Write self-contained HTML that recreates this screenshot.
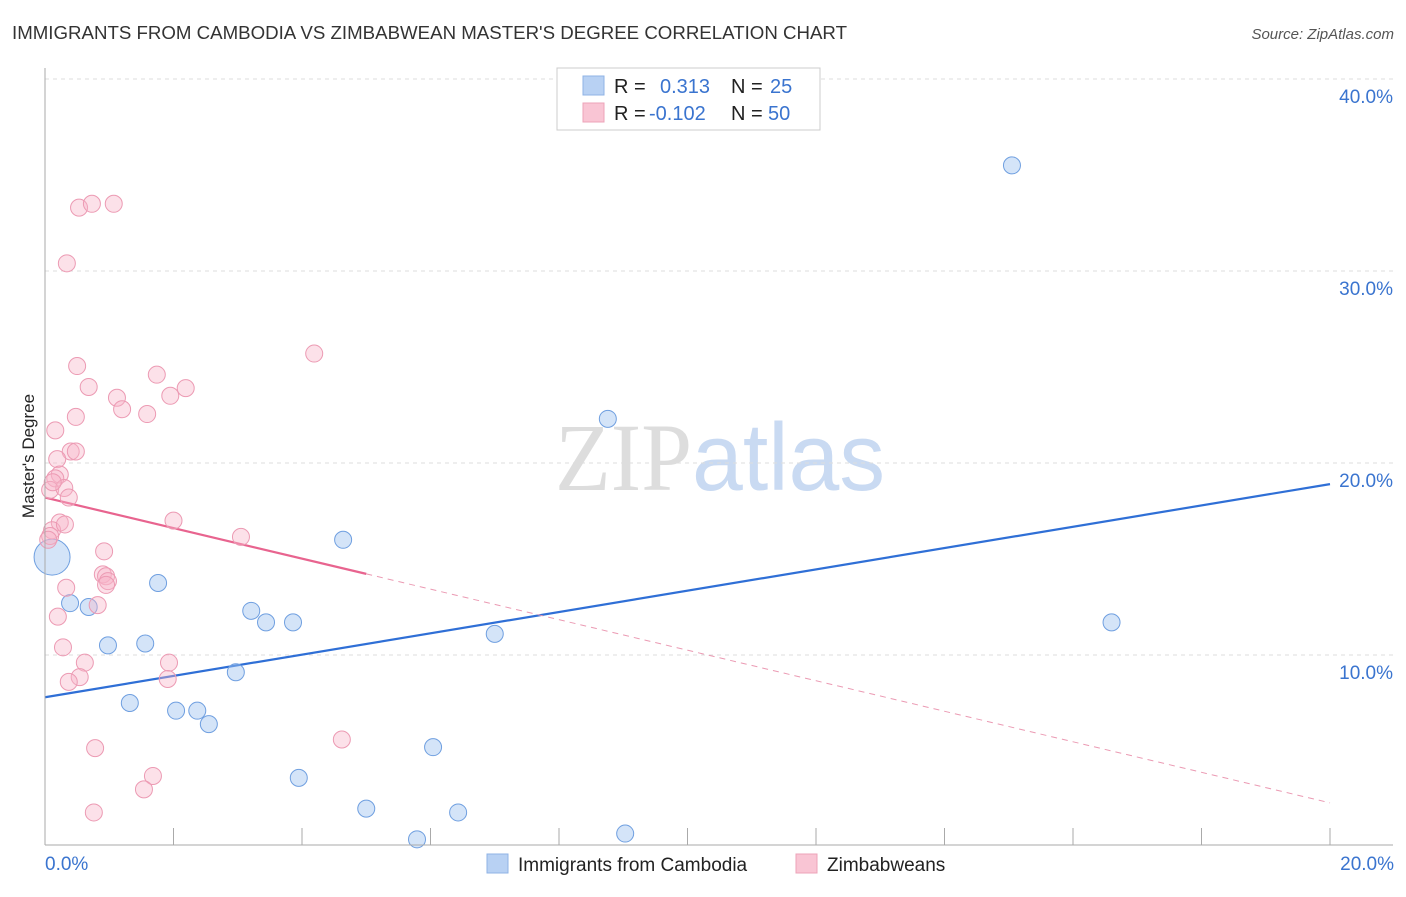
<!DOCTYPE html>
<html><head><meta charset="utf-8"><style>
body{margin:0;background:#fff;font-family:"Liberation Sans",sans-serif;}
svg text{font-family:"Liberation Sans",sans-serif;}
</style></head><body>
<svg id="chart" width="1406" height="892" xmlns="http://www.w3.org/2000/svg">
<text x="12" y="39" font-size="18" fill="#333" textLength="835" lengthAdjust="spacingAndGlyphs">IMMIGRANTS FROM CAMBODIA VS ZIMBABWEAN MASTER'S DEGREE CORRELATION CHART</text>
<text x="1394" y="39" font-size="15" fill="#555" text-anchor="end" font-style="italic">Source: ZipAtlas.com</text>
<text x="720" y="490" font-size="96" text-anchor="middle" textLength="330" lengthAdjust="spacingAndGlyphs"><tspan fill="#ddd" font-family="Liberation Serif,serif">ZIP</tspan><tspan fill="#c9daf2">atlas</tspan></text>
<text transform="translate(34,456) rotate(-90)" font-size="17" fill="#222" text-anchor="middle">Master's Degree</text>
<g id="grid"></g><g id="ticks"></g><g id="lines"></g><g id="pts"></g>
<line x1="45" y1="68" x2="45" y2="845" stroke="#aaa"/>
<line x1="45" y1="845" x2="1393" y2="845" stroke="#aaa"/>
<g>
<rect x="557" y="68" width="263" height="62" fill="#fff" stroke="#ccc"/>
<rect x="583" y="76" width="21" height="19" fill="#b8d1f3" stroke="#8fb3e6"/>
<rect x="583" y="103" width="21" height="19" fill="#f9c5d4" stroke="#eda3b8"/>
<text x="614" y="93" font-size="20" fill="#222">R =</text>
<text x="660" y="93" font-size="20" fill="#3a74cf">0.313</text>
<text x="731" y="93" font-size="20" fill="#222">N =</text>
<text x="770" y="93" font-size="20" fill="#3a74cf">25</text>
<text x="614" y="120" font-size="20" fill="#222">R =</text>
<text x="649" y="120" font-size="20" fill="#3a74cf">-0.102</text>
<text x="731" y="120" font-size="20" fill="#222">N =</text>
<text x="768" y="120" font-size="20" fill="#3a74cf">50</text>
</g>
<g>
<rect x="487" y="854" width="21" height="19" fill="#b8d1f3" stroke="#8fb3e6"/>
<text x="518" y="871" font-size="19" fill="#222">Immigrants from Cambodia</text>
<rect x="796" y="854" width="21" height="19" fill="#f9c5d4" stroke="#eda3b8"/>
<text x="827" y="871" font-size="19" fill="#222">Zimbabweans</text>
</g>
<text x="45" y="870" font-size="19" fill="#3a74cf">0.0%</text>
<text x="1394" y="870" font-size="19" fill="#3a74cf" text-anchor="end">20.0%</text>
</svg>
<script>
const yTicks=[10,20,30,40];
const blueX=[0.11,0.39,0.68,0.98,1.32,1.56,1.76,2.04,2.37,2.55,2.97,3.21,3.44,3.86,3.95,4.64,5.0,5.79,6.04,6.43,7.0,8.76,9.03,15.05,16.6];
const blueY=[15.1,12.7,12.5,10.5,7.5,10.6,13.75,7.1,7.1,6.4,9.1,12.3,11.7,11.7,3.6,16.0,2.0,0.4,5.2,1.8,11.1,22.3,0.7,35.5,11.7];
const pinkX=[0.53,0.73,1.07,0.34,4.19,0.5,1.74,0.68,2.19,1.95,1.12,1.2,1.59,0.48,0.16,0.4,0.48,0.19,0.23,0.16,0.08,0.3,0.37,0.23,0.11,0.08,2.0,3.05,0.92,0.9,0.95,0.98,0.95,0.33,0.82,0.2,0.28,0.62,1.93,0.54,0.37,1.91,4.62,0.78,1.68,1.54,0.76,0.05,0.31,0.12];
const pinkY=[33.3,33.5,33.5,30.4,25.7,25.05,24.6,23.96,23.9,23.5,23.4,22.8,22.55,22.4,21.7,20.6,20.6,20.2,19.4,19.2,18.6,18.7,18.2,16.9,16.5,16.2,17.0,16.15,15.4,14.2,14.1,13.85,13.65,13.5,12.6,12.0,10.4,9.6,9.6,8.85,8.6,8.75,5.6,5.15,3.7,3.0,1.8,16.0,16.8,19.0];
const blueTrend=[7.8,18.9];
const pinkTrend=[18.2,2.3];
const NS="http://www.w3.org/2000/svg";
const X=v=>45+v/20*1285, Y=v=>847-v*19.2;
function mk(t,a,p){const e=document.createElementNS(NS,t);for(const k in a)e.setAttribute(k,a[k]);document.getElementById(p).appendChild(e);return e;}
yTicks.forEach(t=>{
 const l=mk('line',{x1:45,x2:1393,y1:Y(t),y2:Y(t),stroke:'#ddd','stroke-dasharray':'4,4'},'grid');
 
 
 const tx=mk('text',{x:1393,y:Y(t)+24,'font-size':19,fill:'#3a74cf','text-anchor':'end'},'grid');
 tx.textContent=t.toFixed(1)+'%';
 
 
});
for(let i=0;i<=10;i++){
 const l=mk('line',{x1:X(i*2),x2:X(i*2),y1:828,y2:845,stroke:'#aaa'},'ticks');
 
 
}
blueX.forEach((x,i)=>{
 const c=mk('circle',{cx:X(x),cy:Y(blueY[i]),r:i==0?18:8.5,fill:'rgba(160,195,240,0.45)',stroke:'#6f9fe0','stroke-width':1},'pts');
 
 
});
pinkX.forEach((x,i)=>{
 const c=mk('circle',{cx:X(x),cy:Y(pinkY[i]),r:8.5,fill:'rgba(248,180,200,0.4)',stroke:'#ec9ab3','stroke-width':1},'pts');
 
 
});
const bl=mk('line',{x1:X(0),y1:Y(blueTrend[0]),x2:X(20),y2:Y(blueTrend[1]),stroke:'#2f6fd6','stroke-width':2.2},'lines');


const pAt=x=>pinkTrend[0]+(pinkTrend[1]-pinkTrend[0])*x/20;
const pl=mk('line',{x1:X(0),y1:Y(pAt(0)),x2:X(5),y2:Y(pAt(5)),stroke:'#e8648f','stroke-width':2.2},'lines');


const pd=mk('line',{x1:X(5),y1:Y(pAt(5)),x2:X(20),y2:Y(pAt(20)),stroke:'#eb9ab3','stroke-width':1,'stroke-dasharray':'6,5'},'lines');


</script>
</body></html>
